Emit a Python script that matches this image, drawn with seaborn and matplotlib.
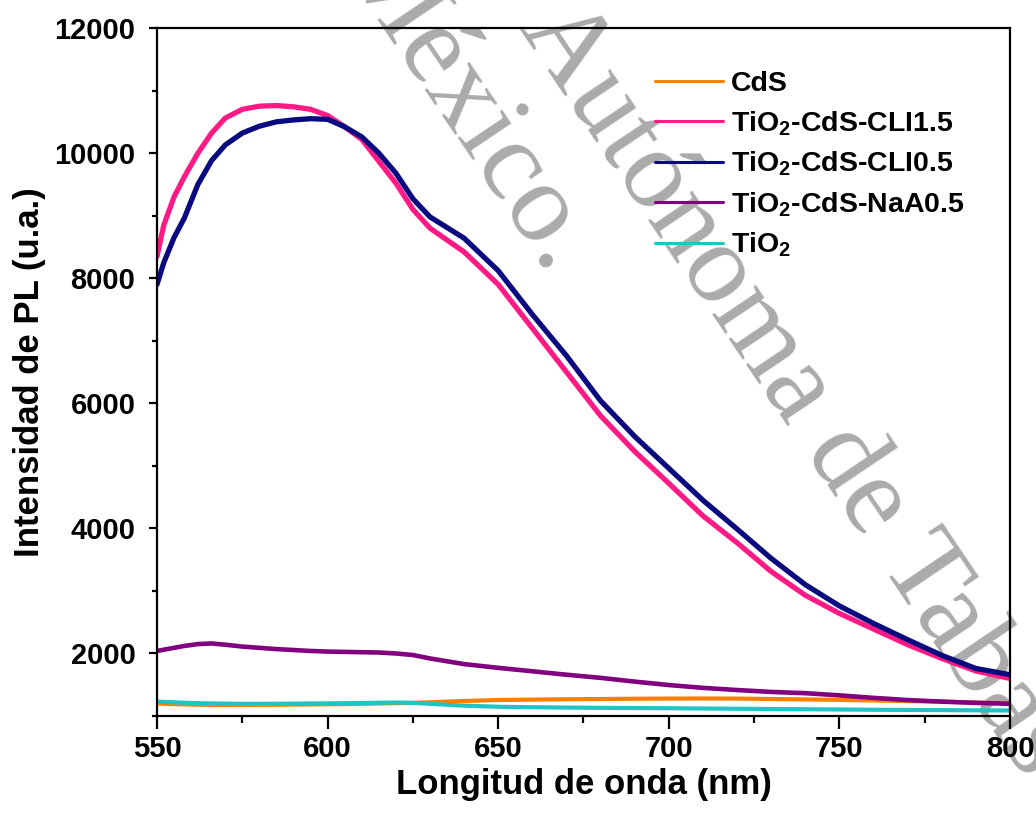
import numpy as np
import pandas as pd
import matplotlib
matplotlib.use("Agg")
import matplotlib.pyplot as plt
import seaborn as sns
from matplotlib.ticker import MultipleLocator

# ---------------- data ----------------
wavelength = [550, 552, 555, 558, 562, 566, 570, 575, 580, 585, 590, 595, 600, 605, 610,
              615, 620, 625, 630, 640, 650, 660, 670, 680, 690, 700, 710, 720, 730, 740,
              750, 760, 770, 780, 790, 800]

cds = [1200, 1195, 1190, 1185, 1180, 1178, 1175, 1175, 1178, 1180, 1182, 1185, 1188, 1190, 1195,
       1200, 1205, 1210, 1220, 1240, 1255, 1262, 1268, 1272, 1276, 1278, 1280, 1278, 1272, 1265,
       1258, 1248, 1238, 1228, 1215, 1205]

cli15 = [8350, 8850, 9300, 9620, 10000, 10320, 10560, 10700, 10750, 10760, 10740, 10700, 10600, 10420, 10220,
         9870, 9520, 9100, 8800, 8420, 7900, 7200, 6500, 5800, 5230, 4720, 4200, 3770, 3310, 2930,
         2640, 2390, 2140, 1920, 1720, 1600]

cli05 = [7900, 8250, 8650, 8960, 9500, 9880, 10130, 10320, 10430, 10500, 10530, 10550, 10540, 10420, 10260,
         10000, 9680, 9270, 8980, 8640, 8120, 7420, 6760, 6040, 5470, 4960, 4450, 3990, 3520, 3100,
         2760, 2480, 2220, 1970, 1760, 1660]

naa05 = [2040, 2060, 2090, 2120, 2150, 2160, 2140, 2110, 2090, 2070, 2055, 2040, 2030, 2025, 2020,
         2015, 2000, 1975, 1920, 1830, 1770, 1715, 1660, 1610, 1550, 1495, 1450, 1415, 1385, 1365,
         1330, 1290, 1255, 1230, 1210, 1195]

tio2 = [1230, 1225, 1220, 1212, 1205, 1200, 1198, 1195, 1195, 1196, 1198, 1200, 1202, 1205, 1208,
        1212, 1215, 1210, 1195, 1165, 1148, 1140, 1135, 1130, 1127, 1124, 1120, 1116, 1112, 1108,
        1104, 1100, 1097, 1094, 1091, 1088]

labels = ["CdS",
          r"TiO$_{\mathbf{2}}$-CdS-CLI1.5",
          r"TiO$_{\mathbf{2}}$-CdS-CLI0.5",
          r"TiO$_{\mathbf{2}}$-CdS-NaA0.5",
          r"TiO$_{\mathbf{2}}$"]
series = [cds, cli15, cli05, naa05, tio2]
colors = ["#FF8000", "#FF1A85", "#0A0A80", "#800080", "#1FC4C4"]
widths = [3.0, 3.8, 3.8, 3.3, 3.0]

x_ticks = [550, 600, 650, 700, 750, 800]
y_ticks = [2000, 4000, 6000, 8000, 10000, 12000]

watermark_1 = "Autónoma de Tabasco"
watermark_2 = "México."

# ---------------- style ----------------
sns.set_style("ticks")
plt.rcParams["font.family"] = ["Liberation Sans", "DejaVu Sans"]
plt.rcParams["font.weight"] = "bold"
plt.rcParams["mathtext.fontset"] = "custom"
plt.rcParams["mathtext.rm"] = "Liberation Sans:bold"
plt.rcParams["mathtext.bf"] = "Liberation Sans:bold"
plt.rcParams["mathtext.default"] = "bf"
for k in ["text.color", "axes.labelcolor", "xtick.color", "ytick.color", "axes.edgecolor"]:
    plt.rcParams[k] = "black"

fig = plt.figure(figsize=(10.36, 8.25), dpi=100)
ax = fig.add_axes([157 / 1036, 1 - 716 / 825, (1010 - 157) / 1036, (716 - 28) / 825])

for vals, lab, col, lw in zip(series, labels, colors, widths):
    df = pd.DataFrame({"nm": wavelength, "I": vals})
    sns.lineplot(data=df, x="nm", y="I", ax=ax, color=col, linewidth=lw, label=lab)

ax.set_xlim(550, 800)
ax.set_ylim(1000, 12000)
ax.set_xticks(x_ticks)
ax.set_yticks(y_ticks)
ax.xaxis.set_minor_locator(MultipleLocator(25))
ax.yaxis.set_minor_locator(MultipleLocator(1000))
ax.tick_params(axis="both", which="major", labelsize=21, width=1.6, direction="out")
ax.tick_params(axis="x", which="major", length=9.5, pad=4)
ax.tick_params(axis="x", which="minor", length=5, width=1.6)
ax.tick_params(axis="y", which="major", length=5.5, pad=10)
ax.tick_params(axis="y", which="minor", length=3.8, width=1.6)
for lab in ax.get_xticklabels() + ax.get_yticklabels():
    lab.set_fontweight("bold")
for sp in ax.spines.values():
    sp.set_linewidth(1.6)
    sp.set_visible(True)

ax.set_xlabel("Longitud de onda (nm)", fontsize=25, fontweight="bold", labelpad=4)
ax.set_ylabel("Intensidad de PL (u.a.)", fontsize=25, fontweight="bold", labelpad=6)

leg = ax.legend(loc="upper left", bbox_to_anchor=(0.584, 0.937), frameon=False,
                fontsize=20.5, handlelength=2.4, handletextpad=0.25, labelspacing=0.42,
                borderpad=0, borderaxespad=0)
for line in leg.get_lines():
    line.set_linewidth(2.2)

# watermark (two diagonal lines, drawn behind the data)
wm = dict(transform=fig.transFigure, rotation=-56, rotation_mode="anchor",
          fontsize=82, family="Liberation Serif", fontweight="normal",
          color="#ababab", zorder=0.5, clip_on=False)
ax.text(0.797, 0.474, watermark_1, ha="center", va="center", **wm)
ax.text(0.529, 0.663, watermark_2, ha="right", va="baseline", **wm)

fig.savefig("out.png", dpi=100)
